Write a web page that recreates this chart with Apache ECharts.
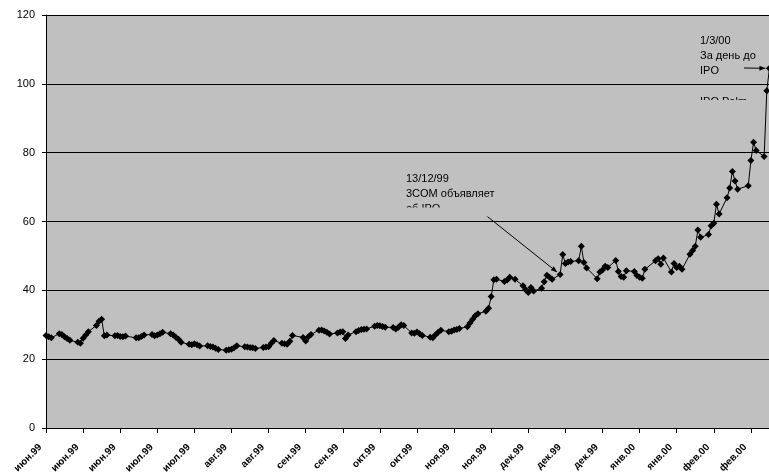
<!DOCTYPE html>
<html>
<head>
<meta charset="utf-8">
<script src="https://cdn.jsdelivr.net/npm/echarts@6/dist/echarts.min.js"></script>
<style>
  html, body { margin: 0; padding: 0; background: #fff; }
  #chart { width: 769px; height: 476px; }
</style>
</head>
<body>
<div id="chart"></div>
<script>
// торговый календарь: с 2 июня 1999 по 1 марта 2000, без выходных и праздников
const startDate = '1999-06-02'
const endDate = '2000-03-01'
const holidays = ['1999-07-05', '1999-09-06', '1999-11-25', '1999-12-24', '2000-01-17', '2000-02-21']

// подписи оси X, шаг 14 дней
const tickStep = 14
const tickLabels = [
  'июн.99', 'июн.99', 'июн.99', 'июл.99', 'июл.99', 'авг.99', 'авг.99', 'сен.99', 'сен.99', 'окт.99',
  'окт.99', 'ноя.99', 'ноя.99', 'дек.99', 'дек.99', 'дек.99', 'янв.00', 'янв.00', 'фев.00', 'фев.00'
]
const yTicks = [0, 20, 40, 60, 80, 100, 120]

// цена закрытия по торговым дням
const price = [
  26.9, 26.5, 26.2,
  27.4, 27.2, 26.5, 26.0, 25.5,
  24.9, 24.6, 26.1, 27.0, 28.0,
  29.8, 31.0, 31.6, 26.8, 27.0,
  26.8, 26.9, 26.6, 26.5, 26.7,
  26.2, 26.2, 26.6, 27.0,
  27.2, 26.8, 27.0, 27.4, 27.8,
  27.4, 27.0, 26.4, 25.8, 24.9,
  24.3, 24.2, 24.5, 24.2, 23.8,
  23.9, 23.7, 23.5, 23.2, 22.8,
  22.6, 22.7, 22.9, 23.3, 23.9,
  23.6, 23.5, 23.4, 23.3, 23.1,
  23.4, 23.5, 23.6, 24.6, 25.4,
  24.6, 24.5, 24.3, 25.2, 26.9,
  26.3, 25.3, 26.5, 27.2,
  28.4, 28.5, 28.2, 27.8, 27.3,
  27.6, 27.9, 28.0, 26.0, 27.0,
  28.0, 28.3, 28.6, 28.7, 28.8,
  29.6, 29.8, 29.7, 29.5, 29.3,
  29.2, 28.8, 29.3, 30.0, 29.8,
  27.6, 27.5, 27.9, 27.4, 26.9,
  26.4, 26.2, 27.1, 27.8, 28.4,
  28.0, 28.1, 28.5, 28.6, 28.9,
  29.4, 30.5, 31.6, 32.6, 33.2,
  33.9, 34.8, 38.2, 43.1, 43.2,
  42.6, 43.0, 43.8, 43.2,
  41.3, 40.2, 39.4, 40.8, 39.8,
  40.6, 42.5, 44.4, 43.8, 43.2,
  44.6, 50.4, 47.8, 48.2, 48.4,
  48.6, 52.8, 48.1, 46.5,
  43.4, 45.3, 45.9, 47.0, 46.6,
  48.7, 45.5, 44.0, 43.8, 45.7,
  45.5, 44.3, 43.8, 43.5, 46.1,
  48.6, 49.2, 47.6, 49.4,
  45.3, 47.8, 46.6, 47.0, 46.1,
  50.5, 51.6, 52.8, 57.5, 55.4,
  56.2, 58.8, 59.5, 65.0, 62.2,
  66.9, 69.7, 74.5, 71.8, 69.4,
  70.4, 77.7, 83.0, 80.6,
  78.9, 98.0, 104.5
]

// выноски
const notes = [
  { date: '1999-12-13', lines: ['13/12/99', '3COM объявляет', 'об IPO'] },
  { date: '2000-03-01', lines: ['1/3/00', 'За день до', 'IPO'] }
]

const DAY = 86400000
const t0 = Date.parse(startDate + 'T00:00:00Z')
const dayOf = (s) => Math.round((Date.parse(s + 'T00:00:00Z') - t0) / DAY)

// список торговых дней
let tradingDays = []
for (let t = t0; t <= Date.parse(endDate + 'T00:00:00Z'); t += DAY) {
  let d = new Date(t)
  let iso = d.toISOString().slice(0, 10)
  if (d.getUTCDay() === 0 || d.getUTCDay() === 6) continue
  if (holidays.includes(iso)) continue
  tradingDays.push(iso)
}
if (tradingDays.length !== price.length) console.warn('days', tradingDays.length, 'values', price.length)

const seriesData = tradingDays.map((s, i) => [dayOf(s), price[i]])
const valueAt = (s) => price[tradingDays.indexOf(s)]

let myChart = echarts.init(document.getElementById('chart'), null, { renderer: 'canvas' })
const font = 'Arial, "Liberation Sans", sans-serif'

let option = {
  animation: false,
  backgroundColor: '#fff',
  grid: {
    left: 46,
    top: 15,
    width: 742,
    height: 413,
    outerBoundsMode: 'none',
    containLabel: false,
    show: true,
    backgroundColor: '#c0c0c0',
    borderWidth: 0
  },
  xAxis: {
    type: 'value',
    min: 0,
    max: tickStep * tickLabels.length,
    interval: tickStep,
    axisLine: { show: true, onZero: false, lineStyle: { color: '#000', width: 1 } },
    axisTick: { show: true, length: 5, lineStyle: { color: '#000' } },
    splitLine: { show: false },
    axisLabel: {
      rotate: 45,
      margin: 12,
      padding: [0, 8, 0, 0],
      fontSize: 10,
      fontWeight: 'bold',
      fontFamily: font,
      color: '#000',
      showMaxLabel: false,
      formatter: (v) => tickLabels[Math.round(v / tickStep)] || ''
    }
  },
  yAxis: {
    type: 'value',
    min: yTicks[0],
    max: yTicks[yTicks.length - 1],
    interval: yTicks[1] - yTicks[0],
    axisLine: { show: true, lineStyle: { color: '#000', width: 1 } },
    axisTick: { show: true, length: 4, lineStyle: { color: '#000' } },
    splitLine: { show: true, lineStyle: { color: '#000', width: 1 } },
    axisLabel: { fontSize: 11, fontFamily: font, color: '#000', margin: 11 }
  },
  series: [
    {
      type: 'line',
      data: seriesData,
      clip: false,
      symbol: 'diamond',
      symbolSize: 7,
      showAllSymbol: true,
      lineStyle: { color: '#000', width: 1 },
      itemStyle: { color: '#000' },
      emphasis: { disabled: true },
      z: 3
    }
  ]
}
myChart.setOption(option)

// текст выносок и стрелки к точкам
const textPos = [[406, 180], [700, 42]]
const arrowFrom = [[483, 213], [744, 68]]
let graphic = []
notes.forEach((n, k) => {
  n.lines.forEach((line, j) => {
    graphic.push({
      type: 'text', left: textPos[k][0], top: textPos[k][1] + j * 15 - 7, z: 10,
      style: { text: line, fill: '#000', font: '11px ' + font }
    })
  })
  let p = myChart.convertToPixel({ gridIndex: 0 }, [dayOf(n.date), valueAt(n.date)])
  let s = arrowFrom[k]
  let dx = p[0] - s[0], dy = p[1] - s[1]
  let len = Math.sqrt(dx * dx + dy * dy)
  let ux = dx / len, uy = dy / len
  let e = [p[0] - ux * 4, p[1] - uy * 4]
  graphic.push({
    type: 'line', z: 10,
    shape: { x1: s[0], y1: s[1], x2: e[0], y2: e[1] },
    style: { stroke: '#000', lineWidth: 1 }
  })
  let b = [e[0] - ux * 6, e[1] - uy * 6]
  graphic.push({
    type: 'polygon', z: 10,
    shape: { points: [e, [b[0] - uy * 2.5, b[1] + ux * 2.5], [b[0] + uy * 2.5, b[1] - ux * 2.5]] },
    style: { fill: '#000' }
  })
})
// обрезанная строка второй выноски
graphic.push({
  type: 'text', left: 700, top: 96, z: 10,
  style: { text: 'IPO Palm', fill: '#000', font: '11px ' + font }
})
// плашки, скрывающие обрезанные строки
graphic.push({ type: 'rect', z: 11, shape: { x: 400, y: 207.5, width: 100, height: 9 }, style: { fill: '#c0c0c0' } })
graphic.push({ type: 'rect', z: 11, shape: { x: 695, y: 100, width: 60, height: 10 }, style: { fill: '#c0c0c0' } })

myChart.setOption({ graphic: graphic })
</script>
</body>
</html>
